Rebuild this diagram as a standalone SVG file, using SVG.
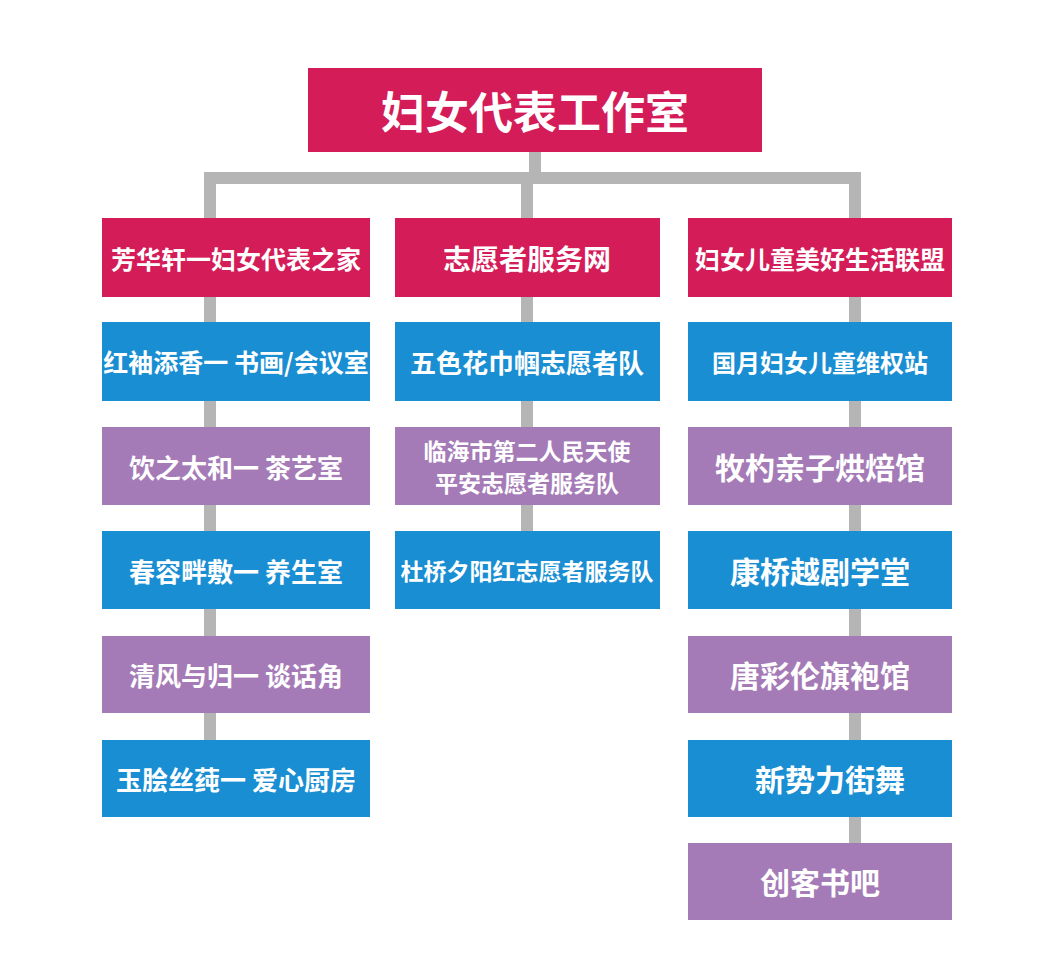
<svg xmlns="http://www.w3.org/2000/svg" width="1055" height="960" viewBox="0 0 1055 960">
<style>
.r{fill:#d41c58}.b{fill:#1a8ed3}.p{fill:#a57bb7}
text{fill:#fff;font-family:"Noto Sans CJK SC","Noto Sans",sans-serif;font-weight:bold;text-anchor:middle;dominant-baseline:central}
.t{font-size:26px}.h{font-size:28px}
line{stroke:#b5b5b5;stroke-width:12}
</style>
<rect width="1055" height="960" fill="#fff"/>
<g id="connectors">
<line x1="535" y1="150" x2="535" y2="178"/>
<line x1="204" y1="178" x2="861" y2="178"/>
<line x1="210" y1="172" x2="210" y2="780"/>
<line x1="527" y1="172" x2="527" y2="570"/>
<line x1="855" y1="172" x2="855" y2="880"/>
</g>
<g id="n0"><rect class="r" x="308" y="68" width="454" height="84"/><text x="535" y="110" style="font-size:44px">妇女代表工作室</text></g>
<g id="c1h"><rect class="r" x="102" y="218" width="268" height="79"/><text class="h" x="236" y="258" style="font-size:25px">芳华轩一妇女代表之家</text></g>
<g id="c2h"><rect class="r" x="395" y="218" width="265" height="79"/><text class="h" x="527" y="258">志愿者服务网</text></g>
<g id="c3h"><rect class="r" x="688" y="218" width="264" height="79"/><text class="h" x="820" y="258" style="font-size:25px">妇女儿童美好生活联盟</text></g>
<g id="a1"><rect class="b" x="102" y="322" width="268" height="79"/><text class="t" x="236" y="361" style="font-size:25px">红袖添香一 书画/会议室</text></g>
<g id="a2"><rect class="p" x="102" y="427" width="268" height="78"/><text class="t" x="236" y="466">饮之太和一 茶艺室</text></g>
<g id="a3"><rect class="b" x="102" y="531" width="268" height="78"/><text class="t" x="236" y="570">春容畔敷一 养生室</text></g>
<g id="a4"><rect class="p" x="102" y="636" width="268" height="77"/><text class="t" x="236" y="674">清风与归一 谈话角</text></g>
<g id="a5"><rect class="b" x="102" y="740" width="268" height="77"/><text class="t" x="236" y="778">玉脍丝莼一 爱心厨房</text></g>
<g id="b1"><rect class="b" x="395" y="322" width="265" height="79"/><text class="t" x="527" y="361">五色花巾帼志愿者队</text></g>
<g id="b2"><rect class="p" x="395" y="427" width="265" height="78"/><text class="t" x="527" y="450" style="font-size:23px">临海市第二人民天使</text><text class="t" x="527" y="482" style="font-size:23px">平安志愿者服务队</text></g>
<g id="b3"><rect class="b" x="395" y="531" width="265" height="78"/><text class="t" x="527" y="570" style="font-size:23px">杜桥夕阳红志愿者服务队</text></g>
<g id="d1"><rect class="b" x="688" y="322" width="264" height="79"/><text class="t" x="820" y="361" style="font-size:24px">国月妇女儿童维权站</text></g>
<g id="d2"><rect class="p" x="688" y="427" width="264" height="78"/><text class="t" x="820" y="466" style="font-size:30px">牧杓亲子烘焙馆</text></g>
<g id="d3"><rect class="b" x="688" y="531" width="264" height="78"/><text class="t" x="820" y="570" style="font-size:30px">康桥越剧学堂</text></g>
<g id="d4"><rect class="p" x="688" y="636" width="264" height="77"/><text class="t" x="820" y="674" style="font-size:30px">唐彩伦旗袍馆</text></g>
<g id="d5"><rect class="b" x="688" y="740" width="264" height="77"/><text class="t" x="830" y="778" style="font-size:30px">新势力街舞</text></g>
<g id="d6"><rect class="p" x="688" y="843" width="264" height="77"/><text class="t" x="820" y="881" style="font-size:30px">创客书吧</text></g>
</svg>
